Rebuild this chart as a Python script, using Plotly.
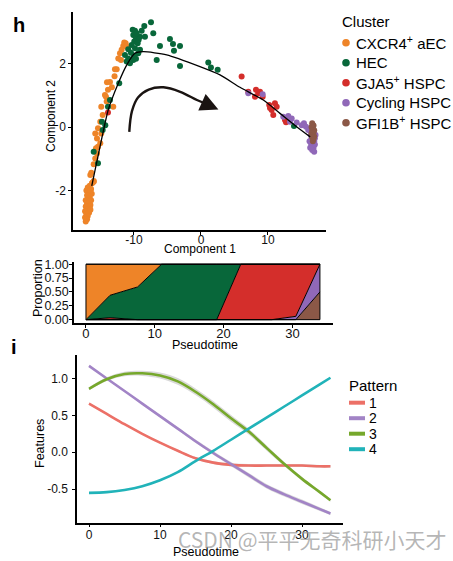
import plotly.graph_objects as go

W, H = 453, 561
FONT = "Liberation Sans, Arial, Helvetica, sans-serif"

# ---------------- Panel h: trajectory scatter ----------------
cluster_names = ["CXCR4<sup>+</sup> aEC", "HEC", "GJA5<sup>+</sup> HSPC",
                 "Cycling HSPC", "GFI1B<sup>+</sup> HSPC"]
cluster_colors = ["#EE8428", "#08673A", "#D42E2B", "#9068B8", "#8B5847"]

aec_x = [-11.24, -11.60, -11.84, -12.09, -12.34, -11.94, -12.58, -11.45, -11.09,
         -13.58, -13.88, -14.33, -14.07, -13.09, -14.03, -14.18, -14.88, -14.67,
         -15.03, -15.37, -15.78, -14.88, -15.52, -15.03, -15.37, -15.67, -15.52,
         -15.78, -16.01, -16.37, -16.52, -16.01, -16.27, -13.3, -12.9, -12.84,
         -16.6, -16.9, -16.4, -17.1, -16.7, -16.3, -17.0, -16.6, -16.9, -16.4,
         -17.2, -16.7, -17.0, -16.5, -16.8, -17.2, -16.6, -17.0, -16.8, -17.3,
         -16.7, -17.1, -16.9, -17.3, -17.0, -17.2, -16.5, -16.5, -16.0, -16.2]
aec_y = [2.64, 2.55, 2.43, 2.32, 2.16, 2.11, 1.82, 2.66, 2.53,
         1.42, 1.17, 1.01, 0.80, 0.64, 1.41, 0.95, 0.64, 0.38,
         0.17, -0.04, -0.20, -0.20, -0.36, -0.51, -0.62, -0.67, -0.83,
         -0.99, -1.17, -1.44, -1.51, -1.72, -1.77, 1.25, 1.60, 1.82,
         -1.85, -1.90, -1.95, -2.00, -2.05, -2.10, -2.15, -2.20, -2.25, -2.30,
         -2.30, -2.35, -2.40, -2.45, -2.50, -2.50, -2.55, -2.60, -2.65, -2.65,
         -2.70, -2.75, -2.80, -2.85, -2.90, -2.97, -2.00, -2.60, -1.70, -1.75]

hec_x = [-7.46, -8.46, -7.12, -10.19, -9.85, -8.85, -10.10, -9.75, -9.10, -8.36,
         -9.96, -9.45, -10.34, -9.85, -9.10, -10.85, -10.45, -11.34, -10.85, -10.10,
         -11.09, -10.60, -9.36, -6.12, -4.63, -4.18, -3.13, -4.03, -6.61, -3.13,
         1.09, 1.49, 2.49, -12.2, -13.58, -13.88, -14.78, -14.28, -14.67, -16.01,
         -15.37, 13.88, -9.6, -9.3, -10.0, -9.7]
hec_y = [3.30, 3.18, 2.95, 3.06, 3.03, 3.03, 2.90, 2.83, 2.84, 2.84,
         2.69, 2.64, 2.58, 2.48, 2.43, 2.45, 2.34, 2.27, 2.16, 2.11,
         2.06, 2.01, 2.32, 2.55, 2.77, 2.61, 2.55, 2.40, 2.11, 1.92,
         2.03, 1.87, 1.80, 1.38, 0.85, 0.64, 0.17, 0.06, -0.09, -0.78,
         -1.14, 0.03, 2.95, 2.75, 2.25, 2.15]

gja5_x = [-13.88, 6.07, 7.06, 8.21, 8.55, 8.06, 9.21, 8.81, 10.19, 10.55,
          11.04, 11.30, 10.79, 10.30, 12.69, 12.54]
gja5_y = [0.46, 1.59, 1.11, 1.17, 1.06, 0.95, 0.95, 1.11, 0.69, 0.54,
          0.75, 0.64, 0.38, 0.60, 0.15, 0.22]

cyc_x = [7.06, 9.21, 12.28, 13.03, 13.54, 13.28, 14.28, 15.03, 15.37, 15.67, 16.01,
         16.3, 16.6, 16.9, 16.4, 16.8, 16.5, 17.0, 16.6, 16.9, 16.4, 16.7, 17.0,
         16.5, 16.8, 16.6, 16.9, 16.2, 17.1, 16.3]
cyc_y = [1.06, 1.03, 0.32, 0.35, 0.27, 0.17, 0.14, 0.06, 0.12, 0.01, -0.09,
         -0.10, -0.15, -0.20, -0.25, -0.30, -0.35, -0.35, -0.40, -0.45, -0.50, -0.55, -0.55,
         -0.60, -0.65, -0.72, -0.78, -0.45, -0.25, -0.65]

gfi_x = [16.6, 16.8, 16.5, 16.7, 16.9, 16.6, 16.8, 16.5, 16.7, 16.9, 16.6, 16.8, 16.7]
gfi_y = [0.12, 0.05, 0.00, -0.05, -0.10, -0.12, -0.18, -0.20, -0.25, -0.30, -0.32, -0.38, -0.45]

traj_x = [-16.3, -15.07, -13.84, -12.34, -11.09, -9.85, -8.61, -5.12, -0.15,
          2.84, 5.82, 9.30, 11.79, 14.28, 16.3]
traj_y = [-1.85, -0.62, 0.54, 1.38, 1.95, 2.32, 2.37, 2.27, 1.90,
          1.64, 1.25, 0.85, 0.43, 0.01, -0.31]

arrow_x = [-10.7, -10.3, -9.4, -7.8, -5.6, -3.1, -0.6, 0.8]
arrow_y = [-0.15, 0.50, 0.93, 1.18, 1.25, 1.11, 0.85, 0.72]

# ---------------- Panel h (lower): proportions ----------------
prop_t = [0, 3.5, 7.5, 11, 19, 22.5, 27, 30.5, 34]
prop_gfi = [0, 0, 0, 0, 0, 0, 0, 0, 0.5]
prop_cyc = [0, 0, 0, 0, 0, 0, 0, 0.06, 0.5]
prop_gja5 = [0, 0.035, 0, 0, 0, 1.0, 1.0, 0.94, 0]
prop_hec = [0, 0.405, 0.59, 1.0, 1.0, 0, 0, 0, 0]
prop_aec = [1, 0.56, 0.41, 0, 0, 0, 0, 0, 0]

# ---------------- Panel i: pattern curves ----------------
pattern_names = ["1", "2", "3", "4"]
pattern_colors = ["#EC7067", "#A284C6", "#76A82B", "#21B3B9"]
pseudo_t = [0, 2.5, 5, 7.5, 10, 12.5, 15, 17.5, 20, 22.5, 25, 27.5, 30, 32.5, 34]
pat1 = [0.66, 0.52, 0.38, 0.25, 0.13, 0.02, -0.08, -0.14, -0.17, -0.18, -0.18, -0.18, -0.18, -0.19, -0.19]
pat2 = [1.17, 1.00, 0.83, 0.66, 0.49, 0.32, 0.15, -0.01, -0.16, -0.31, -0.46, -0.57, -0.67, -0.77, -0.83]
pat3 = [0.86, 0.99, 1.06, 1.07, 1.04, 0.96, 0.82, 0.65, 0.46, 0.28, 0.06, -0.16, -0.36, -0.54, -0.65]
pat4 = [-0.55, -0.54, -0.51, -0.46, -0.38, -0.27, -0.12, 0.02, 0.17, 0.32, 0.47, 0.62, 0.77, 0.92, 1.01]
se1 = [0.015, 0.012, 0.01, 0.01, 0.01, 0.012, 0.015, 0.018, 0.02, 0.02, 0.02, 0.02, 0.02, 0.018, 0.018]
se2 = [0.01, 0.01, 0.01, 0.012, 0.015, 0.018, 0.022, 0.025, 0.028, 0.03, 0.03, 0.03, 0.03, 0.025, 0.02]
se3 = [0.02, 0.025, 0.03, 0.035, 0.04, 0.045, 0.045, 0.045, 0.045, 0.04, 0.035, 0.03, 0.025, 0.02, 0.02]
se4 = [0.008, 0.008, 0.008, 0.008, 0.008, 0.008, 0.008, 0.008, 0.008, 0.008, 0.008, 0.008, 0.008, 0.008, 0.008]

fig = go.Figure()

# scatter points
for xs, ys, col in [(aec_x, aec_y, cluster_colors[0]), (hec_x, hec_y, cluster_colors[1]),
                    (gja5_x, gja5_y, cluster_colors[2]), (cyc_x, cyc_y, cluster_colors[3]),
                    (gfi_x, gfi_y, cluster_colors[4])]:
    fig.add_trace(go.Scatter(x=xs, y=ys, mode="markers", xaxis="x", yaxis="y",
                             marker=dict(size=6, color=col, line=dict(width=0)),
                             showlegend=False, hoverinfo="skip"))
fig.add_trace(go.Scatter(x=traj_x, y=traj_y, mode="lines", xaxis="x", yaxis="y",
                         line=dict(color="black", width=1.3, shape="spline", smoothing=0.6),
                         showlegend=False, hoverinfo="skip"))
fig.add_trace(go.Scatter(x=arrow_x, y=arrow_y, mode="lines", xaxis="x", yaxis="y",
                         line=dict(color="#1a1412", width=2.4, shape="spline", smoothing=1.0),
                         showlegend=False, hoverinfo="skip"))
fig.add_annotation(x=2.6, y=0.55, ax=arrow_x[-1], ay=arrow_y[-1], xref="x", yref="y",
                   axref="x", ayref="y", showarrow=True, arrowhead=2, arrowsize=1.5,
                   arrowwidth=2.4, arrowcolor="#1a1412", text="", standoff=0)

# stacked proportions
for vals, col in [(prop_gfi, cluster_colors[4]), (prop_cyc, cluster_colors[3]),
                  (prop_gja5, cluster_colors[2]), (prop_hec, cluster_colors[1]),
                  (prop_aec, cluster_colors[0])]:
    fig.add_trace(go.Scatter(x=prop_t, y=vals, mode="lines", stackgroup="p",
                             xaxis="x2", yaxis="y2", fillcolor=col,
                             line=dict(color="black", width=1),
                             showlegend=False, hoverinfo="skip"))
fig.add_trace(go.Scatter(x=[prop_t[0], prop_t[0], prop_t[-1], prop_t[-1], prop_t[0]],
                         y=[0, 1, 1, 0, 0], mode="lines", xaxis="x2", yaxis="y2",
                         line=dict(color="black", width=1), showlegend=False, hoverinfo="skip"))

# pattern ribbons + lines
pats = [pat1, pat2, pat3, pat4]
ses = [se1, se2, se3, se4]
for p, s in zip(pats, ses):
    up = [a + b for a, b in zip(p, s)]
    lo = [a - b for a, b in zip(p, s)]
    fig.add_trace(go.Scatter(x=pseudo_t, y=up, mode="lines", xaxis="x3", yaxis="y3",
                             line=dict(width=0, shape="spline"), showlegend=False, hoverinfo="skip"))
    fig.add_trace(go.Scatter(x=pseudo_t, y=lo, mode="lines", xaxis="x3", yaxis="y3",
                             fill="tonexty", fillcolor="rgba(170,170,170,0.45)",
                             line=dict(width=0, shape="spline"), showlegend=False, hoverinfo="skip"))
for p, col in zip(pats, pattern_colors):
    fig.add_trace(go.Scatter(x=pseudo_t, y=p, mode="lines", xaxis="x3", yaxis="y3",
                             line=dict(color=col, width=2.6, shape="spline", smoothing=1.0),
                             showlegend=False, hoverinfo="skip"))

axis_common = dict(showline=True, linecolor="black", linewidth=1.5, ticks="outside",
                   ticklen=3, tickwidth=1.2, tickcolor="black", showgrid=False,
                   zeroline=False, automargin=False,
                   tickfont=dict(family=FONT, size=12, color="#111"))


def px_dom(a, b, total):
    return [a / total, b / total]


fig.update_layout(
    width=W, height=H, margin=dict(l=0, r=0, t=0, b=0),
    paper_bgcolor="white", plot_bgcolor="white",
    font=dict(family=FONT, color="black"),
    xaxis=dict(axis_common, domain=px_dom(73, 326, W), range=[-19.1, 18.66], anchor="y",
               tickvals=[-10, 0, 10], ticktext=["-10", "0", "10"], ticklabelstandoff=-5),
    yaxis=dict(axis_common, domain=[1 - 230 / H, 1 - 12 / H], range=[-3.24, 3.62], anchor="x",
               tickvals=[-2, 0, 2], ticktext=["-2", "0", "2"]),
    xaxis2=dict(axis_common, domain=px_dom(74, 333, W), range=[-1.74, 35.9], anchor="y2",
                tickvals=[0, 10, 20, 30], ticktext=["0", "10", "20", "30"],
                tickfont=dict(family=FONT, size=13, color="#111"), ticklabelstandoff=-5),
    yaxis2=dict(axis_common, domain=[1 - 323 / H, 1 - 262 / H], range=[-0.06, 1.04], anchor="x2",
                tickvals=[0, 0.25, 0.5, 0.75, 1.0],
                ticktext=["0.00", "0.25", "0.50", "0.75", "1.00"],
                tickfont=dict(family=FONT, size=12.5, color="#111"), ticklabelstandoff=-2),
    xaxis3=dict(axis_common, domain=px_dom(77, 343, W), range=[-1.69, 35.77], anchor="y3",
                tickvals=[0, 10, 20, 30], ticktext=["0", "10", "20", "30"], ticklabelstandoff=-3),
    yaxis3=dict(axis_common, domain=[1 - 522.7 / H, 1 - 355 / H], range=[-0.954, 1.318], anchor="x3",
                tickvals=[-0.5, 0, 0.5, 1.0], ticktext=["-0.5", "0.0", "0.5", "1.0"],
                ticklabelstandoff=2),
)

# axis titles
axis_titles = [("Component 1", 200, 249, 0, 12), ("Component 2", 51, 116, -90, 12),
               ("Pseudotime", 205, 345, 0, 12.5), ("Proportion", 38, 288, -90, 12.5),
               ("Pseudotime", 206, 552, 0, 12.5), ("Features", 40, 444, -90, 12.5)]
for txt, xp, yp, ang, sz in axis_titles:
    fig.add_annotation(x=xp / W, y=1 - yp / H, xref="paper", yref="paper", text=txt,
                       showarrow=False, textangle=ang, xanchor="center", yanchor="middle",
                       font=dict(family=FONT, size=sz, color="black"))

# panel letters
fig.add_annotation(x=11 / W, y=1 - 12 / H, xref="paper", yref="paper", text="<b>h</b>",
                   showarrow=False, font=dict(family=FONT, size=20, color="black"))
fig.add_annotation(x=9 / W, y=1 - 347 / H, xref="paper", yref="paper", text="<b>i</b>",
                   showarrow=False, font=dict(family=FONT, size=20, color="black"))

# Cluster legend
fig.add_annotation(x=340 / W, y=1 - 21 / H, xref="paper", yref="paper", text="Cluster",
                   xanchor="left", yanchor="middle", showarrow=False,
                   font=dict(family=FONT, size=15, color="black"))
for i, (name, col) in enumerate(zip(cluster_names, cluster_colors)):
    cy = 42.7 + 20 * i
    fig.add_shape(type="circle", xref="paper", yref="paper",
                  x0=(346 - 3.8) / W, x1=(346 + 3.8) / W,
                  y0=1 - (cy + 3.8) / H, y1=1 - (cy - 3.8) / H,
                  fillcolor=col, line=dict(width=0))
    fig.add_annotation(x=354 / W, y=1 - cy / H, xref="paper", yref="paper", text=name,
                       xanchor="left", yanchor="middle", showarrow=False,
                       font=dict(family=FONT, size=15, color="black"))

# Pattern legend
fig.add_annotation(x=347 / W, y=1 - 385 / H, xref="paper", yref="paper", text="Pattern",
                   xanchor="left", yanchor="middle", showarrow=False,
                   font=dict(family=FONT, size=15, color="black"))
for i, (name, col) in enumerate(zip(pattern_names, pattern_colors)):
    cy = 402.7 + 15.5 * i
    fig.add_shape(type="line", xref="paper", yref="paper",
                  x0=349 / W, x1=365 / W, y0=1 - cy / H, y1=1 - cy / H,
                  line=dict(color=col, width=4))
    fig.add_annotation(x=367 / W, y=1 - cy / H, xref="paper", yref="paper", text=name,
                       xanchor="left", yanchor="middle", showarrow=False,
                       font=dict(family=FONT, size=14, color="black"))

# watermark
fig.add_annotation(x=312 / W, y=1 - 539 / H, xref="paper", yref="paper",
                   text="CSDN @平平无奇科研小天才", showarrow=False,
                   xanchor="center", yanchor="middle",
                   font=dict(family="Noto Sans CJK SC, sans-serif", size=21,
                             color="rgba(150,150,150,0.7)"))

fig.write_html("out.html", config={"displayModeBar": False},
               post_script="document.body.style.margin='0';")
